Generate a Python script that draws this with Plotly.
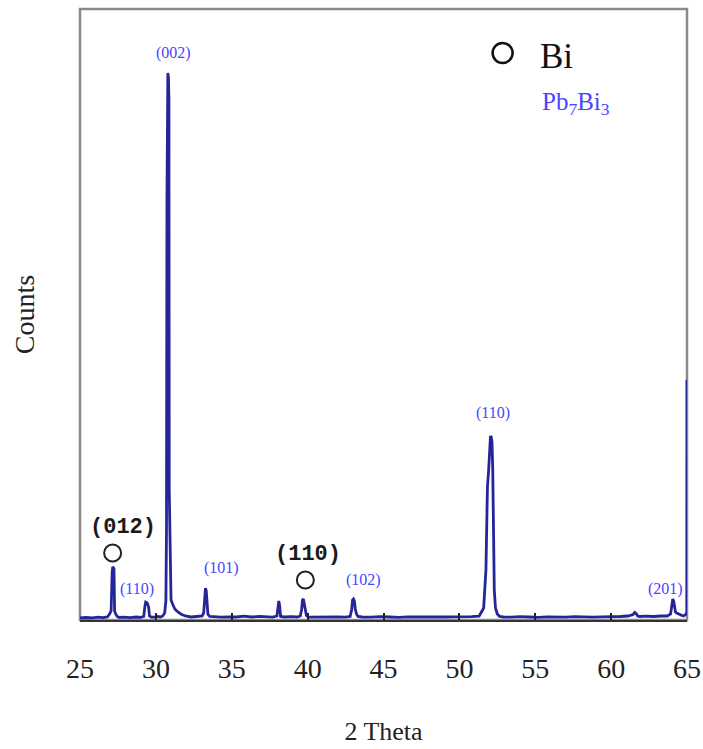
import plotly.graph_objects as go

# ---- data (2θ in degrees, counts in arbitrary units) ----
two_theta = [
    25.0, 25.4, 25.8, 26.2, 26.5, 26.8, 26.95, 27.05, 27.12, 27.16, 27.2, 27.24, 27.28, 27.35, 27.45, 27.6,
    27.9, 28.3, 28.7, 29.0, 29.2, 29.28, 29.33, 29.4, 29.46, 29.52, 29.58, 29.7, 29.9, 30.1,
    30.3, 30.45, 30.58, 30.66, 30.7, 30.73, 30.76, 30.79, 30.83, 30.86, 30.88, 30.91, 30.95, 31.0,
    31.1, 31.25, 31.45, 31.7, 31.95, 32.3, 32.7, 33.05, 33.15, 33.22, 33.27, 33.32, 33.37, 33.43,
    33.55, 33.9, 34.3, 34.8, 35.3, 35.8, 36.3, 36.8, 37.3, 37.7, 37.98, 38.05, 38.1, 38.15, 38.22,
    38.5, 38.9, 39.3, 39.52, 39.6, 39.66, 39.72, 39.78, 39.84, 39.92, 40.05, 40.5, 41.0, 41.5, 42.0,
    42.5, 42.8, 42.9, 42.96, 43.02, 43.08, 43.14, 43.22, 43.32, 43.6, 44.2, 44.8, 45.4, 46.0, 46.6,
    47.2, 47.8, 48.4, 49.0, 49.6, 50.2, 50.8, 51.3, 51.6, 51.75, 51.85, 51.93, 52.0, 52.05, 52.1,
    52.15, 52.2, 52.25, 52.3, 52.38, 52.5, 52.65, 52.9, 53.4, 54.0, 54.6, 55.2, 55.8, 56.4, 57.0,
    57.6, 58.2, 58.8, 59.4, 60.0, 60.6, 61.1, 61.45, 61.55, 61.65, 61.75, 61.9, 62.3, 62.8, 63.3,
    63.7, 63.92, 64.0, 64.06, 64.12, 64.18, 64.24, 64.32, 64.45, 64.6, 64.75, 64.88, 64.95, 64.99, 65.0,
]
counts = [
    20, 25, 22, 28, 24, 30, 60, 90, 480, 530, 525, 510, 90, 60, 35, 25,
    28, 24, 30, 26, 35, 140, 180, 175, 160, 130, 40, 30, 28, 35,
    30, 40, 70, 190, 900, 4200, 5350, 5470, 5420, 5200, 1300, 900, 300, 200,
    160, 110, 80, 55, 40, 30, 35, 40, 70, 250, 320, 290, 120, 55,
    35, 30, 28, 32, 30, 38, 30, 36, 30, 28, 40, 150, 190, 150, 35,
    30, 34, 30, 40, 100, 200, 210, 150, 90, 45, 28, 30, 26, 34, 30,
    28, 35, 100, 200, 210, 190, 110, 60, 35, 30, 28, 34, 30, 26, 32,
    30, 34, 28, 30, 32, 30, 34, 38, 120, 500, 1330, 1500, 1800, 1840, 1830,
    1780, 1500, 730, 300, 120, 60, 35, 30, 28, 34, 30, 26, 32, 30, 28,
    34, 30, 28, 32, 30, 35, 40, 55, 75, 65, 40, 35, 38, 35, 40,
    40, 60, 150, 210, 190, 110, 80, 70, 60, 45, 40, 50, 60, 70, 2400,
]

# Bi reflections (black circles)
bi_theta = [27.15, 39.85]
bi_marker_counts = [670, 400]
bi_labels = ["(012)", "(110)"]

# Pb7Bi3 reflections (blue labels)
pb_labels = ["(002)", "(110)", "(101)", "(102)", "(110)", "(201)"]
pb_theta = [31.14, 28.76, 34.3, 43.68, 52.19, 63.6]
pb_label_counts = [5670, 310, 520, 400, 2070, 310]

x_ticks = [25, 30, 35, 40, 45, 50, 55, 60, 65]

SERIF = "Liberation Serif"
BLUE = "#4646ff"
NAVY = "#25259a"

fig = go.Figure()

fig.add_trace(go.Scatter(
    x=two_theta, y=counts, mode="lines",
    line=dict(color=NAVY, width=2.8),
    hoverinfo="skip", showlegend=False,
))

fig.add_trace(go.Scatter(
    x=bi_theta, y=bi_marker_counts, mode="markers",
    marker=dict(symbol="circle-open", size=17, color="#222", line=dict(width=2, color="#222")),
    showlegend=False, hoverinfo="skip",
))

# Bi labels above circles
for xt, yc, txt, xs in zip(bi_theta, bi_marker_counts, bi_labels, [10, 3]):
    fig.add_annotation(x=xt, y=yc, text="<b>" + txt + "</b>", showarrow=False, yshift=26, xshift=xs,
                       font=dict(family="Liberation Mono", size=22, color="#1a1a1a"))

# Pb7Bi3 labels
for xt, yc, txt in zip(pb_theta, pb_label_counts, pb_labels):
    fig.add_annotation(x=xt, y=yc, text=txt, showarrow=False,
                       font=dict(family=SERIF, size=16, color=BLUE))

# legend-like key
fig.add_trace(go.Scatter(
    x=[52.85], y=[5670], mode="markers",
    marker=dict(symbol="circle-open", size=20, color="#111", line=dict(width=2.5, color="#111")),
    showlegend=False, hoverinfo="skip",
))
fig.add_annotation(x=56.4, y=5640, text="Bi", showarrow=False,
                   font=dict(family=SERIF, size=35, color="#111"))
fig.add_annotation(x=57.66, y=5170, text="Pb<sub>7</sub>Bi<sub>3</sub>", showarrow=False,
                   font=dict(family=SERIF, size=25, color=BLUE))

# gray frame (top, left, right)
fig.add_shape(type="rect", xref="paper", yref="paper", x0=0, x1=1, y0=0, y1=1,
              line=dict(color="#8a8a8a", width=2.5), layer="below")

fig.update_layout(
    width=703, height=749,
    margin=dict(l=80, r=16, t=9, b=129),
    paper_bgcolor="white", plot_bgcolor="white",
    font=dict(family=SERIF, color="#222"),
    xaxis=dict(
        range=[25, 65], tickvals=x_ticks, ticktext=[str(t) for t in x_ticks],
        ticks="inside", ticklen=7, tickwidth=2, tickcolor="#222",
        showline=True, linecolor="#333", linewidth=2, automargin=False,
        showgrid=False, zeroline=False, ticklabelstandoff=22,
        tickfont=dict(family=SERIF, size=28, color="#222"),
        title=dict(text="2 Theta", font=dict(family=SERIF, size=26, color="#222"), standoff=39),
    ),
    yaxis=dict(
        range=[0, 6110], showticklabels=False, ticks="", automargin=False,
        showgrid=False, zeroline=False, showline=False,
        title=dict(text="Counts", font=dict(family=SERIF, size=28, color="#222"), standoff=36),
    ),
)

fig.write_html("out.html")
